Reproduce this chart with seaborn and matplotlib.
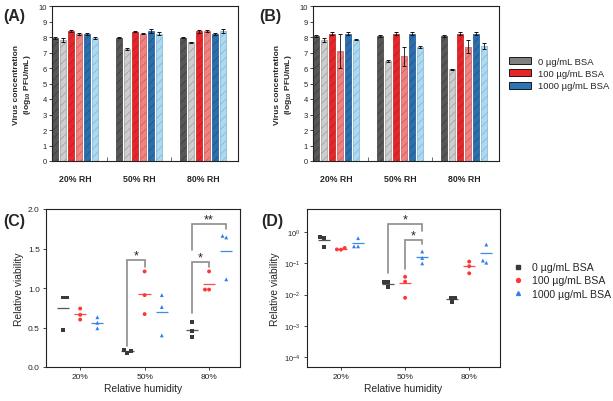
import numpy as np
import pandas as pd
import matplotlib
matplotlib.use("Agg")
import matplotlib.pyplot as plt
import seaborn as sns
from matplotlib.patches import Patch
from matplotlib.lines import Line2D
from matplotlib.ticker import NullLocator, LogLocator

# ---- (A) / (B): concentração do vírus (média e erro), 6 barras por grupo
rh_bar = ["20% RH", "50% RH", "80% RH"]
conds = ["0", "0 h", "100", "100 h", "1000", "1000 h"]

a_20 = [7.95, 7.82, 8.38, 8.20, 8.20, 7.95]
a_50 = [7.95, 7.25, 8.35, 8.22, 8.38, 8.22]
a_80 = [7.95, 7.65, 8.38, 8.38, 8.20, 8.37]
a_20_err = [0.05, 0.12, 0.08, 0.05, 0.05, 0.08]
a_50_err = [0.04, 0.06, 0.04, 0.04, 0.12, 0.12]
a_80_err = [0.04, 0.04, 0.10, 0.04, 0.04, 0.12]

b_20 = [8.08, 7.80, 8.22, 7.12, 8.22, 7.82]
b_50 = [8.08, 6.44, 8.22, 6.76, 8.22, 7.36]
b_80 = [8.08, 5.92, 8.22, 7.36, 8.22, 7.42]
b_20_err = [0.05, 0.12, 0.10, 1.10, 0.08, 0.03]
b_50_err = [0.05, 0.05, 0.10, 0.60, 0.08, 0.08]
b_80_err = [0.05, 0.03, 0.10, 0.42, 0.08, 0.20]

bar_colors = ["#575757", "#cdcdcd", "#e8262a", "#f08282", "#2a6fae", "#abdaf2"]
hatch_colors = ["#3c3c3c", "#9c9c9c", "#b81e22", "#c85a5a", "#1f548a", "#7fb4d2"]

# ---- (C) / (D): viabilidade relativa (pontos individuais)
rh_pts = ["20%", "50%", "80%"]
bsa_levels = ["0 µg/mL BSA", "100 µg/mL BSA", "1000 µg/mL BSA"]
rh_col = ["20%"] * 3 + ["50%"] * 3 + ["80%"] * 3

c_bsa0 = [0.88, 0.88, 0.47, 0.20, 0.21, 0.18, 0.57, 0.46, 0.38]
c_bsa100 = [0.74, 0.66, 0.60, 1.21, 0.91, 0.67, 1.21, 0.98, 0.98]
c_bsa1000 = [0.63, 0.49, 0.56, 0.91, 0.76, 0.40, 1.66, 1.64, 1.11]

d_bsa0 = [0.69, 0.64, 0.33, 0.026, 0.0246, 0.017, 0.0077, 0.0077, 0.0059]
d_bsa100 = [0.31, 0.28, 0.275, 0.026, 0.037, 0.0079, 0.114, 0.081, 0.048]
d_bsa1000 = [0.64, 0.35, 0.35, 0.24, 0.149, 0.10, 0.40, 0.123, 0.105]

# colchetes de significância: (rh, grupo esq, grupo dir, y esq, y topo, y dir, texto)
sig_c = [("50%", 0, 1, 0.26, 1.35, 1.27, "*"),
         ("80%", 0, 1, 0.68, 1.33, 1.27, "*"),
         ("80%", 0, 2, 1.48, 1.81, 1.745, "**")]
sig_d = [("50%", 0, 2, 0.048, 1.76, 1.07, "*"),
         ("50%", 1, 2, 0.066, 0.54, 0.42, "*")]

pt_colors = ["#3a3a3a", "#ff3535", "#2f7ff0"]
pt_markers = ["s", "o", "^"]
line_colors = ["#555555", "#ff4a4a", "#3a8af0"]

sns.set_style("white")
plt.rcParams["font.family"] = ["Liberation Sans", "DejaVu Sans"]
plt.rcParams["mathtext.default"] = "regular"
plt.rcParams["hatch.linewidth"] = 0.5
plt.rcParams["axes.edgecolor"] = "#222222"
plt.rcParams["axes.linewidth"] = 0.8

W, H = 613, 402
fig = plt.figure(figsize=(W / 100, H / 100), dpi=100)


def box(l, t, r, b):
    return [l / W, 1 - b / H, (r - l) / W, (b - t) / H]


ax_a = fig.add_axes(box(52, 7, 238, 162))
ax_b = fig.add_axes(box(313, 7, 499, 162))
ax_c = fig.add_axes(box(46, 210, 240, 368))
ax_d = fig.add_axes(box(307, 210, 500, 368))


def bar_panel(ax, means, errs):
    rows = []
    for rh, m, e in zip(rh_bar, means, errs):
        for cond, v, er in zip(conds, m, e):
            rows.append({"rh": rh, "cond": cond, "value": v, "err": er})
    df = pd.DataFrame(rows)
    sns.barplot(data=df, x="rh", y="value", hue="cond", hue_order=conds,
                palette=bar_colors, width=0.75, gap=0.3, errorbar=None,
                saturation=1, legend=False, ax=ax)
    # patches vêm ordenadas por nível de hue, depois por categoria
    for k, cond in enumerate(conds):
        for i, rh in enumerate(rh_bar):
            p = ax.patches[k * len(rh_bar) + i]
            p.set_hatch("////")
            p.set_edgecolor(hatch_colors[k])
            p.set_linewidth(0.5)
            er = df[(df.rh == rh) & (df.cond == cond)]["err"].iloc[0]
            ax.errorbar(p.get_x() + p.get_width() / 2, p.get_height(), yerr=er,
                        fmt="none", ecolor="#111111", elinewidth=0.6,
                        capsize=1.6, capthick=0.7)
    ax.set_xlim(-0.36, 2.55)
    ax.set_ylim(0, 10)
    ax.set_yticks(range(0, 11))
    ax.tick_params(axis="y", labelsize=5.5, length=2, width=0.6, pad=1.5, left=True)
    ax.set_xticks(range(3))
    ax.set_xticklabels(rh_bar, fontsize=6.3, fontweight="bold")
    ax.tick_params(axis="x", length=0, pad=9)
    ax.set_xticks([0.5, 1.5], minor=True)
    ax.tick_params(axis="x", which="minor", direction="in", length=3, width=0.6,
                   bottom=True, color="#555555")
    ax.set_xlabel("")
    ax.set_ylabel("Virus concentration\n(log$_{10}$ PFU/mL)", fontsize=6,
                  fontweight="bold", labelpad=4, linespacing=1.3)
    for s in ax.spines.values():
        s.set_visible(True)


bar_panel(ax_a, [a_20, a_50, a_80], [a_20_err, a_50_err, a_80_err])
bar_panel(ax_b, [b_20, b_50, b_80], [b_20_err, b_50_err, b_80_err])


def scatter_panel(ax, vals, sig, log=False):
    df = pd.DataFrame({"rh": rh_col * 3,
                       "bsa": [bsa_levels[0]] * 9 + [bsa_levels[1]] * 9 + [bsa_levels[2]] * 9,
                       "value": vals[0] + vals[1] + vals[2]})
    if log:
        ax.set_yscale("log")
    for lvl, mk in zip(bsa_levels, pt_markers):
        sns.swarmplot(data=df[df.bsa == lvl], x="rh", y="value", hue="bsa",
                      hue_order=bsa_levels, order=rh_pts, palette=pt_colors,
                      dodge=True, marker=mk, size=2.8, linewidth=0,
                      legend=False, ax=ax)
    step = 0.8 / 3
    means = df.groupby(["rh", "bsa"])["value"].mean()
    for i, rh in enumerate(rh_pts):
        for j, lvl in enumerate(bsa_levels):
            xc = i + (j - 1) * step
            ax.hlines(means[(rh, lvl)], xc - 0.095, xc + 0.095,
                      color=line_colors[j], lw=0.9)
    for rh, g0, g1, y0, yt, y1, txt in sig:
        i = rh_pts.index(rh)
        x0 = i + (g0 - 1) * step
        x1 = i + (g1 - 1) * step
        ax.plot([x0, x0, x1, x1], [y0, yt, yt, y1], color="#8c8c8c", lw=1.2,
                solid_joinstyle="miter")
        ax.annotate(txt, ((x0 + x1) / 2, yt), xytext=(0, -1),
                    textcoords="offset points", ha="center", va="bottom",
                    fontsize=9, color="#222222")
    ax.set_xlim(-0.53, 2.48)
    ax.set_xlabel("Relative humidity", fontsize=7.4, labelpad=2)
    ax.set_ylabel("Relative viability", fontsize=7.4, labelpad=3)
    ax.tick_params(axis="x", labelsize=6, length=2.5, width=0.6, pad=2, bottom=True)
    ax.tick_params(axis="y", labelsize=6, length=2.5, width=0.6, pad=2, left=True)
    for s in ax.spines.values():
        s.set_visible(True)


scatter_panel(ax_c, [c_bsa0, c_bsa100, c_bsa1000], sig_c)
ax_c.set_ylim(0, 2.0)
ax_c.set_yticks([0.0, 0.5, 1.0, 1.5, 2.0])
ax_c.set_yticklabels(["0.0", "0.5", "1.0", "1.5", "2.0"])

scatter_panel(ax_d, [d_bsa0, d_bsa100, d_bsa1000], sig_d, log=True)
ax_d.set_ylim(4.8e-5, 5.5)
ax_d.yaxis.set_major_locator(LogLocator(base=10, numticks=10))
ax_d.yaxis.set_minor_locator(NullLocator())
ax_d.tick_params(axis="y", labelsize=5.5)

# legendas
bar_handles = [Patch(facecolor=c, edgecolor="black", linewidth=0.6)
               for c in ["#808080", "#e8262a", "#2e73b5"]]
fig.legend(bar_handles, bsa_levels, loc="upper left",
           bbox_to_anchor=(505 / W, 1 - 54 / H), frameon=False, fontsize=6.8,
           handlelength=2.4, handleheight=0.75, labelspacing=0.35,
           handletextpad=0.7, borderaxespad=0)

pt_handles = [Line2D([], [], linestyle="none", marker=m, color=c, markersize=2.8)
              for m, c in zip(pt_markers, pt_colors)]
fig.legend(pt_handles, bsa_levels, loc="upper left",
           bbox_to_anchor=(505 / W, 1 - 259 / H), frameon=False, fontsize=7.6,
           handlelength=1.6, labelspacing=0.3, handletextpad=0.6,
           borderaxespad=0)

# rótulos dos painéis
for txt, x, y in [("(A)", 3, 17), ("(B)", 259, 17), ("(C)", 3, 222), ("(D)", 261, 222)]:
    fig.text(x / W, 1 - y / H, txt, fontsize=11.5, fontweight="bold",
             va="center", ha="left")

fig.savefig("out.png", dpi=100)
